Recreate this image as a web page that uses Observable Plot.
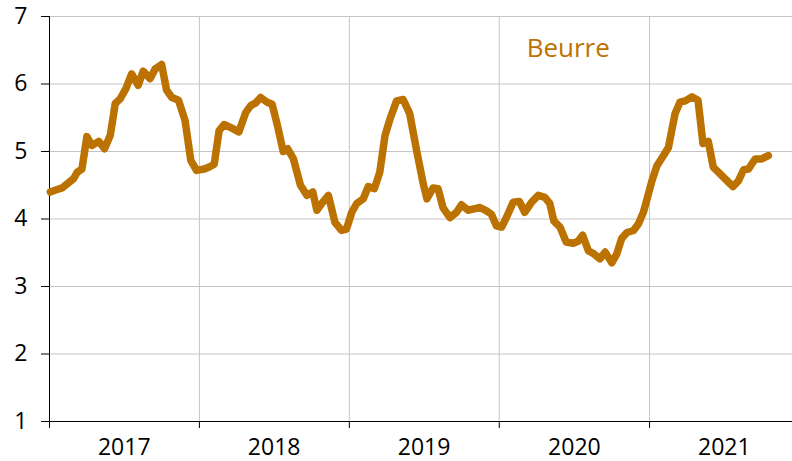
<!DOCTYPE html>
<html><head><meta charset="utf-8">
<script src="https://cdn.jsdelivr.net/npm/d3@7"></script>
<script src="https://cdn.jsdelivr.net/npm/@observablehq/plot@0.6"></script>
<style>
html,body{margin:0;padding:0;background:#fff}
#chart svg{display:block}
</style>
</head><body><div id="chart"></div>
<script>
const dates = [
"2017-01-03","2017-01-16","2017-02-01","2017-03-01","2017-03-09","2017-03-21","2017-04-02","2017-04-14","2017-05-01","2017-05-15","2017-05-29","2017-06-10","2017-06-22","2017-07-06","2017-07-20","2017-08-05","2017-08-17","2017-09-03","2017-09-15","2017-10-01","2017-10-13","2017-10-26","2017-11-11","2017-11-27","2017-12-11","2017-12-25",
"2018-01-13","2018-01-25","2018-02-06","2018-02-18","2018-03-02","2018-03-20","2018-04-07","2018-04-24","2018-05-06","2018-05-18","2018-05-30","2018-06-15","2018-06-27","2018-07-11","2018-07-24","2018-08-04","2018-08-18","2018-09-04","2018-09-20","2018-10-04","2018-10-14","2018-10-26","2018-11-11","2018-11-27","2018-12-13","2018-12-25",
"2019-01-07","2019-01-19","2019-02-04","2019-02-16","2019-03-03","2019-03-16","2019-03-29","2019-04-10","2019-04-26","2019-05-12","2019-05-28","2019-06-14","2019-06-30","2019-07-09","2019-07-24","2019-08-05","2019-08-17","2019-09-03","2019-09-19","2019-10-01","2019-10-17","2019-11-01","2019-11-15","2019-12-01","2019-12-13","2019-12-25",
"2020-01-07","2020-01-19","2020-02-04","2020-02-19","2020-03-03","2020-03-20","2020-04-05","2020-04-21","2020-05-03","2020-05-13","2020-05-28","2020-06-12","2020-06-29","2020-07-11","2020-07-22","2020-08-05","2020-08-19","2020-09-02","2020-09-15","2020-10-01","2020-10-13","2020-10-25","2020-11-07","2020-11-23","2020-12-05","2020-12-17","2020-12-26",
"2021-01-07","2021-01-19","2021-02-04","2021-02-16","2021-02-24","2021-03-04","2021-03-16","2021-03-29","2021-04-14","2021-04-29","2021-05-11","2021-05-24","2021-06-05","2021-06-18","2021-07-08","2021-07-23","2021-08-05","2021-08-18","2021-08-30","2021-09-15","2021-10-01","2021-10-17"
];
const values = [
4.40,4.43,4.46,4.60,4.69,4.74,5.22,5.09,5.15,5.04,5.24,5.71,5.78,5.93,6.15,5.98,6.19,6.08,6.22,6.29,5.91,5.80,5.76,5.46,4.87,4.72,
4.74,4.77,4.81,5.31,5.40,5.35,5.29,5.58,5.68,5.72,5.80,5.73,5.70,5.36,5.00,5.04,4.89,4.50,4.35,4.40,4.13,4.23,4.35,3.95,3.83,3.85,
4.10,4.23,4.30,4.48,4.45,4.69,5.24,5.48,5.75,5.77,5.56,5.01,4.52,4.30,4.46,4.45,4.17,4.02,4.10,4.21,4.13,4.15,4.17,4.12,4.07,3.90,
3.88,4.03,4.25,4.26,4.10,4.25,4.35,4.32,4.23,3.97,3.88,3.66,3.64,3.67,3.76,3.53,3.48,3.41,3.51,3.35,3.48,3.71,3.80,3.83,3.93,4.10,4.30,
4.57,4.79,4.94,5.06,5.31,5.56,5.73,5.75,5.81,5.76,5.12,5.15,4.77,4.69,4.57,4.48,4.56,4.73,4.74,4.89,4.89,4.94
];
const yearLabels = ["2017","2018","2019","2020","2021"];
const yTicks = [1,2,3,4,5,6,7];
const seriesName = "Beurre";
const seriesLabelPos = {date: "2020-06-17", value: 6.53};

const color = "#bb7200";
const font = "'Open Sans', 'Liberation Sans', sans-serif";
const parse = d3.utcParse("%Y-%m-%d");
const data = dates.map((d, i) => ({date: parse(d), value: values[i]}));
const yearStarts = yearLabels.map(y => new Date(Date.UTC(+y, 0, 1)));
const yearMids = yearLabels.map(y => new Date(Date.UTC(+y, 6, 2)));

const chart = Plot.plot({
  width: 792,
  height: 461,
  marginLeft: 49,
  marginRight: 0,
  marginTop: 16,
  marginBottom: 40,
  style: {fontFamily: font, fontSize: "23px", color: "#000", background: "#fff"},
  x: {type: "utc", domain: [yearStarts[0], new Date(Date.UTC(2021, 11, 15))]},
  y: {domain: [1, 7]},
  marks: [
    Plot.gridY(yTicks, {stroke: "#c4c4c4", strokeOpacity: 1}),
    Plot.gridX(yearStarts.slice(1), {stroke: "#c4c4c4", strokeOpacity: 1}),
    Plot.ruleY([1], {stroke: "#000"}),
    Plot.ruleX([yearStarts[0]], {stroke: "#000"}),
    Plot.axisY({ticks: yTicks, tickSize: 8, tickPadding: 14, tickFormat: d => String(d), label: null, fontSize: 23, stroke: "#000"}),
    Plot.axisX({ticks: yearStarts, tickSize: 7, tickFormat: () => "", label: null, stroke: "#000"}),
    Plot.text(yearLabels, {x: (d, i) => yearMids[i], text: d => d, frameAnchor: "bottom", dy: 33, fontSize: 23, fill: "#000"}),
    Plot.line(data, {x: "date", y: "value", stroke: color, strokeWidth: 7.5, strokeLinejoin: "round", strokeLinecap: "round"}),
    Plot.text([seriesName], {x: () => parse(seriesLabelPos.date), y: () => seriesLabelPos.value, text: d => d, fill: color, fontSize: 26})
  ]
});
document.getElementById("chart").appendChild(chart);
</script>
</body></html>
